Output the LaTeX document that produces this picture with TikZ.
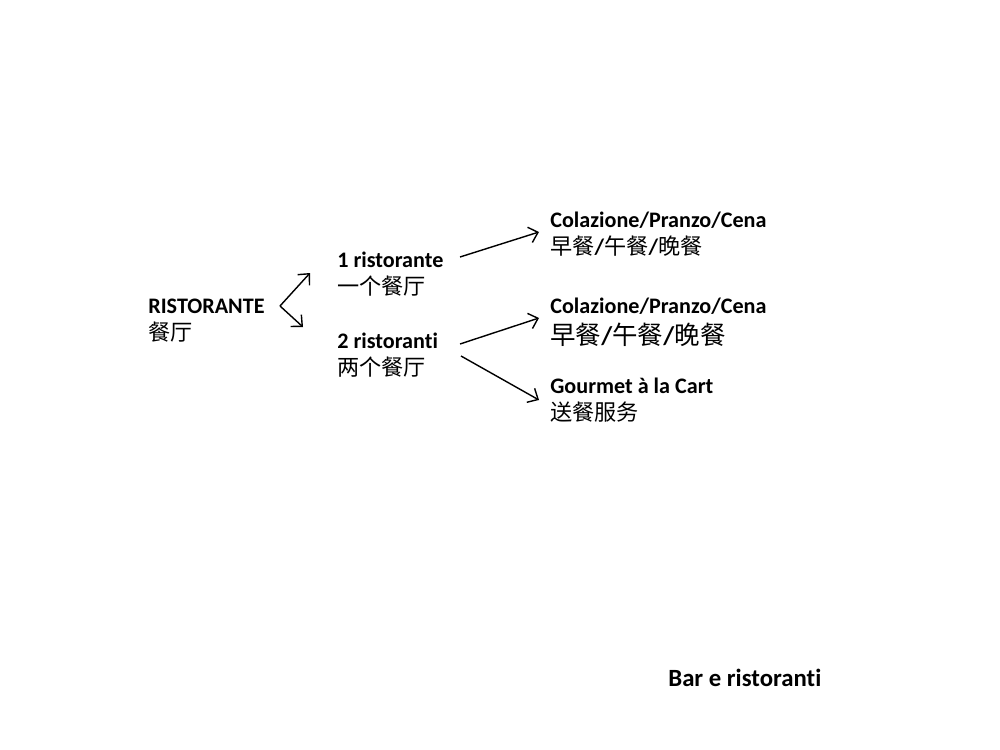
\documentclass[tikz,border=0pt]{standalone}
\usepackage{fontspec}
\setmainfont{Carlito}[Ligatures=NoCommon]
\newfontfamily\cjk{Noto Sans CJK SC}
\usetikzlibrary{arrows.meta}
\lineskiplimit=-20pt\relax

\begin{document}
\begin{tikzpicture}[x=0.02cm, y=-0.02cm,
txt/.style = {anchor=base west, align=left, inner sep=0pt,
  font=\fontsize{12.6}{15.2}\selectfont},
big/.style = {txt, font=\fontsize{14.1}{17}\selectfont},
arr/.style = {thick, -{Straight Barb[length=1.7mm, width=3.2mm]}}]
\useasboundingbox (0,0) rectangle (1000,750);

% nodes sit on the baseline of their last line
\node[txt] (rist) at (148,340) {\textbf{RISTORANTE}\\{\cjk 餐厅}};
\node[txt] (one) at (337,294) {\textbf{1 ristorante}\\{\cjk 一个餐厅}};
\node[txt] (two) at (337,375) {\textbf{2 ristoranti}\\{\cjk 两个餐厅}};
\node[txt] (colaA) at (550,254) {\textbf{Colazione/Pranzo/Cena}\\{\cjk 早餐}\textbf{/}{\cjk 午餐}\textbf{/}{\cjk 晚餐}};
\node[txt] (colaB) at (550,344) {\textbf{Colazione/Pranzo/Cena}\\[2pt]{\fontsize{14.5}{15.2}\selectfont{\cjk 早餐}\textbf{/}{\cjk 午餐}\textbf{/}{\cjk 晚餐}}};
\node[txt] (gourmet) at (550,420) {\textbf{Gourmet à la Cart}\\{\cjk 送餐服务}};
\node[big] (title) at (668,686) {\textbf{Bar e ristoranti}};

% arrow ends
\coordinate (fork) at (280,306);
\coordinate (oneIn) at (310,273);
\coordinate (twoIn) at (303,327);
\coordinate (oneOut) at (460,257);
\coordinate (twoOutA) at (460,344);
\coordinate (twoOutB) at (461,356);
\coordinate (colaAIn) at (539,232);
\coordinate (colaBIn) at (539,318);
\coordinate (gourmetIn) at (539,400);

\draw[arr] (fork) -- (oneIn);
\draw[arr] (fork) -- (twoIn);
\draw[arr] (oneOut) -- (colaAIn);
\draw[arr] (twoOutA) -- (colaBIn);
\draw[arr] (twoOutB) -- (gourmetIn);

\end{tikzpicture}
\end{document}
